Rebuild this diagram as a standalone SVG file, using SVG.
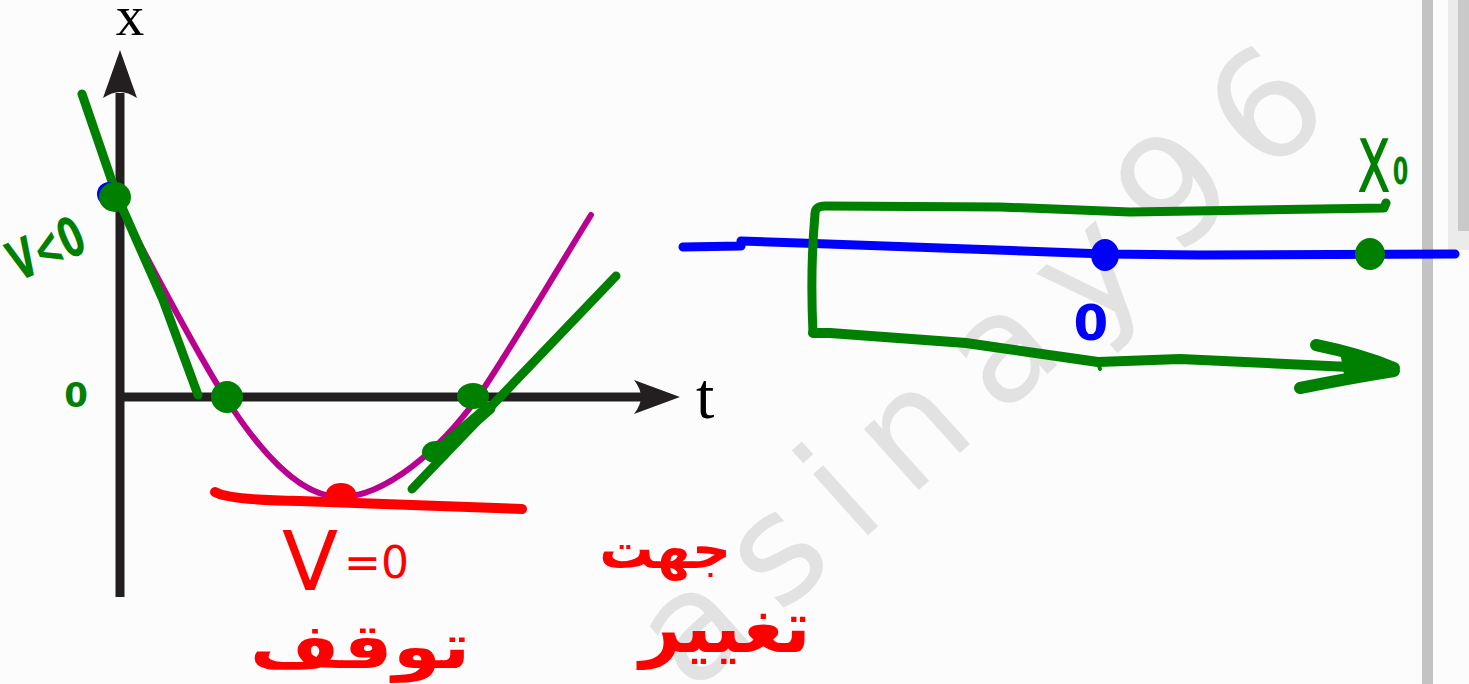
<svg xmlns="http://www.w3.org/2000/svg" width="1469" height="684" viewBox="0 0 1469 684">
<style>
.ink{fill:none;stroke-linecap:round;stroke-linejoin:round}
.g{stroke:#008000}
.b{stroke:#0000FF}
.r{stroke:#FF0000}
.axis{stroke:#231F20;stroke-width:9;fill:none}
.hand{font-family:"DejaVu Sans",sans-serif;font-weight:bold}
.handn{font-family:"DejaVu Sans",sans-serif;font-weight:normal}
.serif{font-family:"Liberation Serif",serif;fill:#000}
</style>
<rect width="1469" height="684" fill="#FCFCFD"/>
<g id="watermark">
<text transform="rotate(3,1265,100) translate(723,724) rotate(-45)" font-family="'DejaVu Sans',sans-serif" font-size="150" letter-spacing="27" fill="#E2E2E2">asinay96</text>
</g>
<g id="sidebar">
<rect x="1422" y="0" width="11" height="684" fill="#C3C3C3"/>
<rect x="1448" y="0" width="21" height="250" fill="#EBEBEB"/>
<rect x="1458" y="0" width="11" height="231" fill="#C9C9C9"/>
</g>
<g id="axes">
<line class="axis" x1="120" y1="93" x2="120" y2="597"/>
<path d="M120,50 L137,98 Q128,92 120,92 Q112,92 103,98 Z" fill="#231F20"/>
<line class="axis" x1="116" y1="397" x2="642" y2="397"/>
<path d="M680,397 L634,414 Q641,405 641,397 Q641,389 634,380 Z" fill="#231F20"/>
<text class="serif" x="130" y="35" font-size="57" text-anchor="middle">x</text>
<text class="serif" x="696" y="418" font-size="66">t</text>
</g>
<g id="curve">
<path class="ink" stroke="#BA008E" stroke-width="6" d="M113,192 C140,245 195,350 225,397 C260,452 300,497 340,497 C385,497 440,450 478,397 C510,350 560,265 591,215"/>
</g>
<g id="tangents">
<path class="ink g" stroke-width="9" d="M82,94 L117,196 L163,300 L198,395"/>
<path class="ink g" stroke-width="9" d="M412,489 L616,276"/>
<path class="ink g" stroke-width="13" d="M433,456 L489,408"/>
<path class="ink r" stroke-width="10" d="M215,492 Q228,500 300,501 L522,509"/>
</g>
<g id="points">
<circle cx="109" cy="194" r="12" fill="#0000FF"/>
<ellipse cx="115" cy="197" rx="16" ry="15" fill="#008000"/>
<ellipse cx="227" cy="397" rx="16" ry="16" fill="#008000"/>
<ellipse cx="473" cy="396" rx="16" ry="13" fill="#008000"/>
<ellipse cx="436" cy="452" rx="14" ry="11" fill="#008000"/>
<ellipse cx="341" cy="494" rx="15" ry="11" fill="#FF0000"/>
</g>
<g id="labels-left">
<text class="hand" transform="translate(54,266) rotate(-24) scale(0.8,1.3)" font-size="42" fill="#008000" text-anchor="middle">V&lt;0</text>
<text class="hand" x="76" y="407" font-size="34" fill="#008000" text-anchor="middle">0</text>
</g>
<g id="labels-red">
<text class="handn" x="282" y="590" font-size="82" fill="#FF0000">V<tspan font-size="44" dx="6" dy="-12">=0</tspan></text>
<text class="hand" transform="translate(360,668) scale(1.25,1)" font-size="62" fill="#FF0000" text-anchor="middle">توقف</text>
<text class="hand" x="665" y="568" font-size="54" fill="#FF0000" text-anchor="middle">جهت</text>
<text class="hand" x="725" y="652" font-size="72" fill="#FF0000" text-anchor="middle">تغییر</text>
</g>
<g id="number-line">
<path class="ink b" stroke-width="9" d="M683,247 L741,246 L741,241 L800,243 L1105,254 L1200,255 L1455,254"/>
<ellipse cx="1105" cy="255" rx="14" ry="16" fill="#0000FF"/>
<ellipse cx="1370" cy="254" rx="15" ry="16" fill="#008000"/>
<text class="hand" x="1091" y="340" font-size="50" fill="#0000FF" text-anchor="middle">0</text>
<text class="handn" transform="translate(1357,192) scale(0.8,1.35)" font-size="72" fill="#008000">x<tspan class="hand" font-size="28" dy="-6" dx="2">0</tspan></text>
</g>
<g id="motion-path">
<path class="ink g" stroke-width="9" d="M1386,203 L1384,208 L1130,212 L1000,207 L825,206 Q815,206 815,214 Q810,270 813,333"/>
<path class="ink g" stroke-width="10" d="M813,333 L830,333 L966,343 L1098,362 L1180,359 L1392,369"/>
<path class="ink g" stroke-width="4" d="M1098,362 L1100,369"/>
<path class="ink g" stroke-width="12" d="M1316,345 Q1360,354 1394,368 M1300,388 Q1350,378 1394,371"/>
<path d="M1340,352 L1398,368 L1345,380 Z" fill="#008000"/>
</g>
</svg>
